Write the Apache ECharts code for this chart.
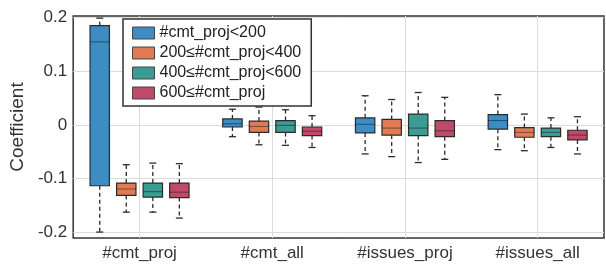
<!DOCTYPE html>
<html>
<head>
<meta charset="utf-8">
<script src="https://cdn.jsdelivr.net/npm/echarts@6/dist/echarts.min.js"></script>
<style>
  html, body { margin: 0; padding: 0; background: #fff; }
  #chart { width: 606px; height: 266px; }
</style>
</head>
<body>
<div id="chart"></div>
<script>
const categories = ['#cmt_proj', '#cmt_all', '#issues_proj', '#issues_all'];
const groupNames = ['#cmt_proj<200', '200≤#cmt_proj<400', '400≤#cmt_proj<600', '600≤#cmt_proj'];
const groupColors = ['#3d8cc4', '#e07b54', '#3b9c94', '#c04a6a'];
const yTicks = [-0.2, -0.1, 0, 0.1, 0.2];

// [min, q1, median, q3, max] per category
const projLt200 = [
  [-0.199, -0.113, 0.154, 0.184, 0.198],
  [-0.022, -0.004, 0.002, 0.011, 0.029],
  [-0.054, -0.015, 0.001, 0.013, 0.054],
  [-0.046, -0.008, 0.008, 0.019, 0.056],
];
const proj200to400 = [
  [-0.162, -0.131, -0.119, -0.108, -0.074],
  [-0.037, -0.014, -0.003, 0.007, 0.033],
  [-0.059, -0.019, -0.006, 0.010, 0.047],
  [-0.048, -0.023, -0.014, -0.005, 0.020],
];
const proj400to600 = [
  [-0.162, -0.134, -0.124, -0.108, -0.071],
  [-0.038, -0.014, -0.001, 0.008, 0.028],
  [-0.070, -0.020, -0.006, 0.020, 0.060],
  [-0.042, -0.022, -0.014, -0.006, 0.013],
];
const projGe600 = [
  [-0.173, -0.135, -0.125, -0.108, -0.072],
  [-0.042, -0.020, -0.012, -0.004, 0.017],
  [-0.064, -0.022, -0.011, 0.008, 0.051],
  [-0.054, -0.028, -0.019, -0.010, 0.015],
];
const groups = [projLt200, proj200to400, proj400to600, projGe600];

const chart = echarts.init(document.getElementById('chart'));

// one box per category, shifted inside the band by group index
function makeRender(idx) {
  return function (params, api) {
    const c = api.value(0);
    const band = api.size([1, 0])[0];
    const cx = api.coord([c, 0])[0] + (idx - 1.5) * band * 0.2;
    const hw = band * 0.073;
    const cap = 3.5;
    const y = (k) => api.coord([c, api.value(k)])[1];
    const yMin = y(1), q1 = y(2), med = y(3), q3 = y(4), yMax = y(5);
    const dark = '#2b2b2b';
    return {
      type: 'group',
      children: [
        { type: 'line', shape: { x1: cx, y1: q3, x2: cx, y2: yMax },
          style: { stroke: dark, lineWidth: 1.3, lineDash: [4, 3] } },
        { type: 'line', shape: { x1: cx, y1: q1, x2: cx, y2: yMin },
          style: { stroke: dark, lineWidth: 1.3, lineDash: [4, 3] } },
        { type: 'line', shape: { x1: cx - cap, y1: yMax, x2: cx + cap, y2: yMax },
          style: { stroke: dark, lineWidth: 1.3 } },
        { type: 'line', shape: { x1: cx - cap, y1: yMin, x2: cx + cap, y2: yMin },
          style: { stroke: dark, lineWidth: 1.3 } },
        { type: 'rect', shape: { x: cx - hw, y: q3, width: hw * 2, height: q1 - q3 },
          style: { fill: groupColors[idx], stroke: dark, lineWidth: 1.2 } },
        { type: 'line', shape: { x1: cx - hw, y1: med, x2: cx + hw, y2: med },
          style: { stroke: 'rgba(0,0,0,0.4)', lineWidth: 1.1 } },
      ],
    };
  };
}

const series = groups.map((g, idx) => ({
  type: 'custom',
  name: groupNames[idx],
  renderItem: makeRender(idx),
  itemStyle: { color: groupColors[idx] },
  encode: { x: 0, y: [1, 2, 3, 4, 5] },
  data: g.map((row, i) => [i].concat(row)),
  z: 3,
}));

const option = {
  animation: false,
  textStyle: { fontFamily: 'Liberation Sans, Arial, sans-serif' },
  grid: {
    left: 69, right: 2, top: 16, bottom: 28,
    show: true, borderColor: '#333', borderWidth: 1.5,
  },
  legend: {
    orient: 'vertical',
    left: 123, top: 19,
    padding: [6, 10, 5, 9],
    itemWidth: 22, itemHeight: 12, itemGap: 4,
    icon: 'rect',
    backgroundColor: '#fff',
    borderColor: '#333', borderWidth: 1.5,
    itemStyle: { borderColor: '#444', borderWidth: 1 },
    textStyle: { fontSize: 16, color: '#222' },
    data: groupNames,
  },
  xAxis: {
    type: 'category',
    data: categories,
    axisLine: { show: false },
    axisTick: { show: false, alignWithLabel: true },
    splitLine: { show: true, alignWithLabel: true, lineStyle: { color: '#dcdcdc', width: 1 } },
    axisLabel: { fontSize: 17, color: '#333', margin: 7 },
  },
  yAxis: {
    type: 'value',
    min: -0.21, max: 0.202,
    name: 'Coefficient',
    nameLocation: 'middle',
    nameGap: 42,
    nameTextStyle: { fontSize: 19, color: '#333' },
    axisLine: { show: false },
    axisTick: { show: false, customValues: yTicks },
    splitLine: { show: true, lineStyle: { color: '#dcdcdc', width: 1 } },
    axisLabel: {
      fontSize: 17, color: '#333', margin: 6,
      customValues: yTicks,
      formatter: (v) => (Math.abs(v) < 1e-9 ? '0' : String(Math.round(v * 10) / 10)),
    },
  },
  series: series,
};

chart.setOption(option);
</script>
</body>
</html>
